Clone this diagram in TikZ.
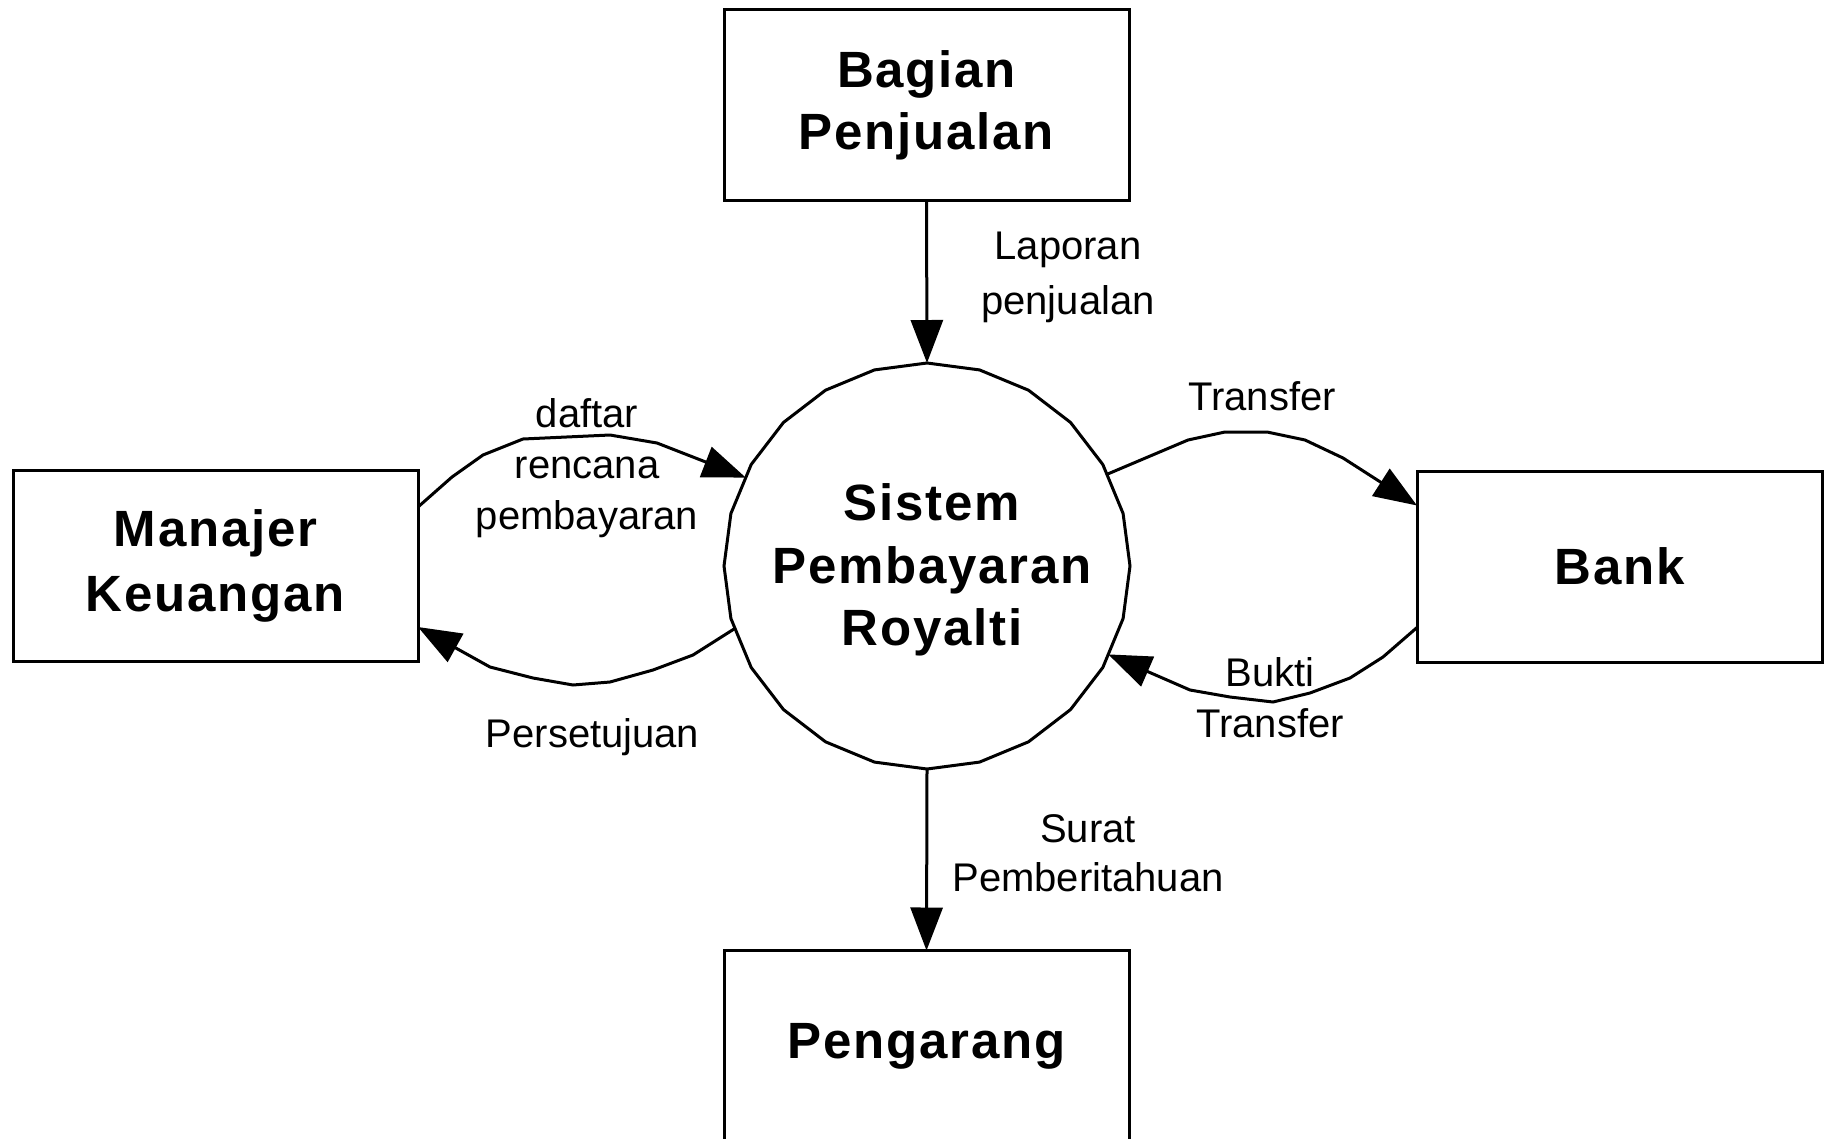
\documentclass[tikz,border=0pt]{standalone}
\usepackage{fontspec}
\setmainfont{Liberation Sans}
\newfontfamily\namefont[LetterSpace=3.5]{Liberation Sans}
\usetikzlibrary{arrows.meta,shapes.geometric}

\tikzset{
  entity/.style={draw, line width=3pt, minimum width=405pt, minimum height=191pt,
    inner sep=0pt, outer sep=0pt, align=center,
    font=\namefont\bfseries\fontsize{51}{62}\selectfont},
  process/.style={draw, line width=3pt, regular polygon, regular polygon sides=24,
    shape border rotate=7.5, minimum size=406pt, inner sep=0pt, outer sep=0pt},
  processtext/.style={inner sep=0pt, align=center,
    font=\namefont\bfseries\fontsize{51}{62.5}\selectfont},
  flowlabel/.style={inner sep=0pt, align=center},
  flow/.style={line width=3pt, -{Triangle[length=43pt,width=32pt]}},
}

\begin{document}
\begin{tikzpicture}[x=1pt, y=-1pt]
  % canvas
  \fill[white] (0,0) rectangle (1830,1138);
  \useasboundingbox (0,0) rectangle (1830,1138);

  % central process and external entities
  \node[process] (sys) at (927,566) {};
  \node[processtext] (systext) at (932,570) {Sistem\\Pembayaran\\Royalti};
  \node[entity] (bp) at (926.5,105) {Bagian\\Penjualan};
  \node[entity, font=\namefont\bfseries\fontsize{51}{65}\selectfont] (mk) at (215.5,566) {Manajer\\Keuangan};
  \node[entity] (bank) at (1619.5,566.5) {Bank};
  \node[entity] (pg) at (926.5,1046) {Pengarang};

  % data flows
  \draw[flow] (bp.south) -- (sys.90);
  \draw[flow] (sys.270) -- (pg.north);

  \draw[flow] ([yshift=59pt]mk.east) -- (452,477) -- (483,455) -- (523,439)
    -- (610,435) -- (657,443) -- (sys.154);
  \draw[flow] (sys.198) -- (693,655) -- (653,670) -- (610,682) -- (573,685)
    -- (533,678) -- (490,667) -- ([yshift=-61pt]mk.east);

  \draw[flow] (sys.27) -- (1188,440) -- (1225,432) -- (1267,432) -- (1305,440)
    -- (1343,458) -- ([yshift=61pt]bank.west);
  \draw[flow] ([yshift=-61pt]bank.west) -- (1383,657) -- (1350,678) -- (1310,693)
    -- (1273,702) -- (1230,697) -- (1190,690) -- (sys.334);

  % flow labels
  \node[flowlabel, font=\fontsize{40}{55}\selectfont] (l1) at (1068,277.4) {Laporan\\penjualan};
  \node[flowlabel, font=\fontsize{40}{51}\selectfont] (l2) at (587,468.6) {daftar\\rencana\\pembayaran};
  \node[flowlabel, font=\fontsize{40}{51}\selectfont, anchor=base] (l3) at (592.5,747) {Persetujuan};
  \node[flowlabel, font=\fontsize{40}{51}\selectfont, anchor=base] (l4) at (1262,410) {Transfer};
  \node[flowlabel, font=\fontsize{40}{51}\selectfont] (l5) at (1270,698) {Bukti\\Transfer};
  \node[flowlabel, font=\fontsize{40}{49}\selectfont] (l6) at (1088,853) {Surat\\Pemberitahuan};
\end{tikzpicture}
\end{document}
